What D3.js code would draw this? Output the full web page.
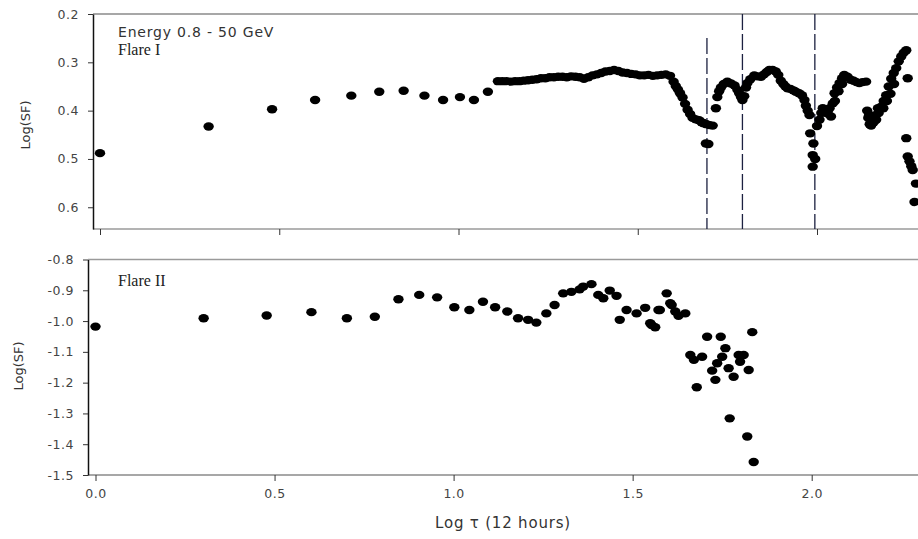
<!DOCTYPE html>
<html>
<head>
<meta charset="utf-8">
<script src="https://cdn.jsdelivr.net/npm/d3@7"></script>
<style>
  body { margin: 0; background: #fff; }
  text { font-family: "DejaVu Sans", sans-serif; }
</style>
</head>
<body>
<div class="graph"></div>
<script>
// data
// Flare I (top panel): log tau and log(SF) as shown on the axis
let flare1Tau = [0, 0.303, 0.48, 0.60, 0.701, 0.779, 0.847, 0.905, 0.957, 1.004, 1.043, 1.082,
  1.110, 1.122, 1.134, 1.146, 1.158, 1.170, 1.182, 1.194, 1.206, 1.218, 1.230, 1.242, 1.254, 1.266,
  1.278, 1.290, 1.302, 1.314, 1.326, 1.338, 1.350, 1.362, 1.374, 1.386, 1.398, 1.410, 1.422, 1.434,
  1.446, 1.458, 1.470, 1.482, 1.494, 1.506, 1.518, 1.530, 1.542, 1.554, 1.566, 1.578, 1.590,
  1.600, 1.606, 1.612, 1.618, 1.625, 1.632, 1.639, 1.646, 1.653, 1.662, 1.671, 1.678, 1.684, 1.692,
  1.700, 1.709, 1.690, 1.697, 1.718, 1.722, 1.727, 1.732, 1.740, 1.750, 1.760, 1.770, 1.778, 1.783,
  1.788, 1.792, 1.797, 1.802, 1.806, 1.814, 1.825, 1.834, 1.844, 1.852, 1.860, 1.867, 1.876, 1.885,
  1.892, 1.899, 1.906, 1.912, 1.918, 1.926, 1.934, 1.941, 1.950, 1.958, 1.965, 1.969, 1.974, 1.979,
  1.981, 1.990, 1.988, 1.988, 1.995, 2.000, 2.007, 2.012, 2.016, 2.022, 2.030, 2.039, 2.044, 2.049,
  2.056, 2.063, 2.070, 2.076, 2.085, 2.094, 2.102, 2.110, 2.118, 2.127, 2.137, 2.035, 2.050, 2.060,
  2.070, 2.140, 2.143, 2.147, 2.151, 2.158, 2.165, 2.172, 2.179, 2.186, 2.193, 2.200, 2.207, 2.214,
  2.221, 2.228, 2.235, 2.242, 2.249, 2.145, 2.160, 2.170, 2.185, 2.195, 2.205, 2.215,
  2.253, 2.249, 2.253, 2.258, 2.263, 2.267, 2.276, 2.272]
let flare1Sf = [0.488, 0.433, 0.397, 0.378, 0.369, 0.361, 0.359, 0.369, 0.378, 0.372, 0.378, 0.361,
  0.339, 0.339, 0.339, 0.340, 0.339, 0.339, 0.338, 0.337, 0.336, 0.335, 0.333, 0.333, 0.331, 0.331,
  0.330, 0.330, 0.331, 0.329, 0.330, 0.331, 0.334, 0.331, 0.327, 0.325, 0.322, 0.319, 0.318, 0.316,
  0.318, 0.321, 0.322, 0.324, 0.325, 0.327, 0.327, 0.326, 0.328, 0.327, 0.326, 0.325, 0.328,
  0.340, 0.349, 0.356, 0.364, 0.373, 0.386, 0.398, 0.407, 0.415, 0.418, 0.420, 0.424, 0.426, 0.428,
  0.430, 0.431, 0.468, 0.469, 0.395, 0.372, 0.360, 0.352, 0.345, 0.340, 0.344, 0.348, 0.357, 0.364,
  0.372, 0.378, 0.370, 0.352, 0.343, 0.335, 0.327, 0.329, 0.330, 0.325, 0.320, 0.316, 0.316, 0.319,
  0.326, 0.338, 0.345, 0.350, 0.354, 0.355, 0.358, 0.361, 0.364, 0.368, 0.378, 0.390, 0.400, 0.409,
  0.447, 0.468, 0.492, 0.516, 0.500, 0.432, 0.419, 0.405, 0.395, 0.403, 0.406, 0.412, 0.385, 0.364,
  0.352, 0.343, 0.333, 0.326, 0.330, 0.336, 0.338, 0.341, 0.343, 0.341, 0.340, 0.395, 0.380, 0.360,
  0.345, 0.400, 0.415, 0.428, 0.431, 0.424, 0.419, 0.405, 0.392, 0.380, 0.368, 0.350, 0.334, 0.322,
  0.312, 0.298, 0.288, 0.280, 0.275, 0.410, 0.410, 0.395, 0.395, 0.380, 0.365, 0.345,
  0.333, 0.457, 0.495, 0.505, 0.515, 0.523, 0.551, 0.589]

// Flare II (bottom panel)
let flare2Tau = [0, 0.302, 0.478, 0.603, 0.702, 0.78, 0.846, 0.904, 0.954, 1.002, 1.044, 1.082,
  1.116, 1.15, 1.18, 1.208, 1.231, 1.259, 1.282, 1.306, 1.329, 1.352, 1.362, 1.385, 1.404, 1.418,
  1.436, 1.455, 1.464, 1.483, 1.511, 1.535, 1.549, 1.553, 1.563, 1.572, 1.576, 1.595, 1.605, 1.609,
  1.619, 1.628, 1.647, 1.661, 1.671, 1.679, 1.694, 1.708, 1.722, 1.731, 1.736, 1.746, 1.75, 1.759,
  1.768, 1.771, 1.782, 1.796, 1.8, 1.81, 1.82, 1.824, 1.834, 1.838]
let flare2Sf = [-1.018, -0.991, -0.982, -0.971, -0.991, -0.986, -0.929, -0.915, -0.923, -0.955, -0.964, -0.937,
  -0.955, -0.969, -0.991, -0.996, -1.005, -0.975, -0.948, -0.910, -0.905, -0.897, -0.888, -0.880, -0.915, -0.926,
  -0.901, -0.918, -0.996, -0.964, -0.975, -0.957, -1.007, -1.013, -1.020, -0.964, -0.964, -0.910, -0.942, -0.948,
  -0.969, -0.983, -0.975, -1.110, -1.126, -1.215, -1.116, -1.051, -1.161, -1.191, -1.137, -1.051, -1.116, -1.088,
  -1.153, -1.316, -1.181, -1.110, -1.132, -1.110, -1.375, -1.159, -1.036, -1.458]

// dashed markers in the top panel
let dashedTau = [1.693, 1.792, 1.994]

// tick labels
let xTicks = [0, 0.5, 1.0, 1.5, 2.0]
let topYTicks = [0.2, 0.3, 0.4, 0.5, 0.6]
let bottomYTicks = [-0.8, -0.9, -1.0, -1.1, -1.2, -1.3, -1.4, -1.5]

let svgWidth = 918
let svgHeight = 539

let svg = d3.select('.graph')
  .append('svg')
  .attr('width', svgWidth)
  .attr('height', svgHeight)

let panelWidth = 840

// ---------- top panel ----------
let topPanel = { left: 93, top: 14, height: 215 }
let gTop = svg.append('g').attr('transform', `translate(${topPanel.left},${topPanel.top})`)

let xTop = d3.scaleLinear().domain([0, 2]).range([7, 724])
let yTop = d3.scaleLinear().domain([0.2, 0.645]).range([0, topPanel.height])

// frame lines
gTop.append('line').attr('x1', 0).attr('x2', panelWidth).attr('y1', 0).attr('y2', 0)
  .attr('stroke', '#8a8a8a').attr('stroke-width', 1.5)
gTop.append('line').attr('x1', 0).attr('x2', panelWidth).attr('y1', topPanel.height).attr('y2', topPanel.height)
  .attr('stroke', '#9a9a9a').attr('stroke-width', 1.5)

let yAxisTop = d3.axisLeft(yTop)
  .tickValues(topYTicks)
  .tickSize(5)
  .tickSizeOuter(0)
  .tickPadding(9)
  .tickFormat(d => d.toFixed(1))
gTop.append('g').call(yAxisTop)

let xAxisTop = d3.axisBottom(xTop).tickValues(xTicks).tickSize(6).tickFormat('')
gTop.append('g').attr('transform', `translate(0,${topPanel.height})`).call(xAxisTop)
  .call(g => g.select('.domain').remove())

// dashed lines
gTop.selectAll('.dash')
  .data(dashedTau)
  .join('line')
  .attr('class', 'dash')
  .attr('x1', d => xTop(d)).attr('x2', d => xTop(d))
  .attr('y1', (d, i) => i === 0 ? 24 : 0)
  .attr('y2', topPanel.height)
  .attr('stroke', '#1c2140')
  .attr('stroke-width', 1.3)
  .attr('stroke-dasharray', '16,4')

let flare1 = flare1Tau.map((t, i) => ({ tau: t, sf: flare1Sf[i] }))
gTop.selectAll('.pt')
  .data(flare1)
  .join('ellipse')
  .attr('class', 'pt')
  .attr('cx', d => xTop(d.tau))
  .attr('cy', d => yTop(d.sf))
  .attr('rx', 5.2)
  .attr('ry', 4.2)
  .attr('fill', '#000')

gTop.append('text').attr('x', 25).attr('y', 23)
  .attr('font-size', 14).attr('letter-spacing', 0.8).attr('fill', '#333').text('Energy 0.8 - 50 GeV')
gTop.append('text').attr('x', 25).attr('y', 41)
  .attr('font-size', 16).attr('fill', '#222')
  .style('font-family', '"Liberation Serif", serif').text('Flare I')

svg.append('text')
  .attr('transform', 'translate(30,125) rotate(-90)')
  .attr('text-anchor', 'middle')
  .attr('font-size', 13).attr('fill', '#333')
  .text('Log(SF)')

// ---------- bottom panel ----------
let bottomPanel = { left: 88, top: 259.5, height: 215.5 }
let gBot = svg.append('g').attr('transform', `translate(${bottomPanel.left},${bottomPanel.top})`)

let xBot = d3.scaleLinear().domain([0, 2]).range([7.5, 723.7])
let yBot = d3.scaleLinear().domain([-0.8, -1.5]).range([0, bottomPanel.height])

gBot.append('line').attr('x1', 0).attr('x2', panelWidth).attr('y1', 0).attr('y2', 0)
  .attr('stroke', '#9a9a9a').attr('stroke-width', 1.5)
gBot.append('line').attr('x1', 0).attr('x2', panelWidth).attr('y1', bottomPanel.height).attr('y2', bottomPanel.height)
  .attr('stroke', '#8a8a8a').attr('stroke-width', 1.5)

let yAxisBot = d3.axisLeft(yBot)
  .tickValues(bottomYTicks)
  .tickSize(5)
  .tickSizeOuter(0)
  .tickPadding(9)
  .tickFormat(d => d.toFixed(1))
gBot.append('g').call(yAxisBot)

let xAxisBot = d3.axisBottom(xBot)
  .tickValues(xTicks)
  .tickSize(6)
  .tickPadding(8)
  .tickFormat(d => d.toFixed(1))
gBot.append('g').attr('transform', `translate(0,${bottomPanel.height})`).call(xAxisBot)
  .call(g => g.select('.domain').remove())

let flare2 = flare2Tau.map((t, i) => ({ tau: t, sf: flare2Sf[i] }))
gBot.selectAll('.pt')
  .data(flare2)
  .join('ellipse')
  .attr('class', 'pt')
  .attr('cx', d => xBot(d.tau))
  .attr('cy', d => yBot(d.sf))
  .attr('rx', 5.2)
  .attr('ry', 4.2)
  .attr('fill', '#000')

gBot.append('text').attr('x', 30).attr('y', 26)
  .attr('font-size', 16).attr('fill', '#222')
  .style('font-family', '"Liberation Serif", serif').text('Flare II')

svg.append('text')
  .attr('transform', 'translate(23,366) rotate(-90)')
  .attr('text-anchor', 'middle')
  .attr('font-size', 13).attr('fill', '#333')
  .text('Log(SF)')

svg.append('text')
  .attr('x', 503).attr('y', 528)
  .attr('text-anchor', 'middle')
  .attr('font-size', 15).attr('letter-spacing', 0.8).attr('fill', '#333')
  .text('Log τ (12 hours)')

// axis styling
svg.selectAll('.tick text').attr('font-size', 12.5).attr('fill', '#444')
  .attr('letter-spacing', 0.5)
  .style('font-family', '"DejaVu Sans", sans-serif')
svg.selectAll('.tick line').attr('stroke', '#333')
svg.selectAll('.domain').attr('stroke', '#111').attr('stroke-width', 1.5)
</script>
</body>
</html>
